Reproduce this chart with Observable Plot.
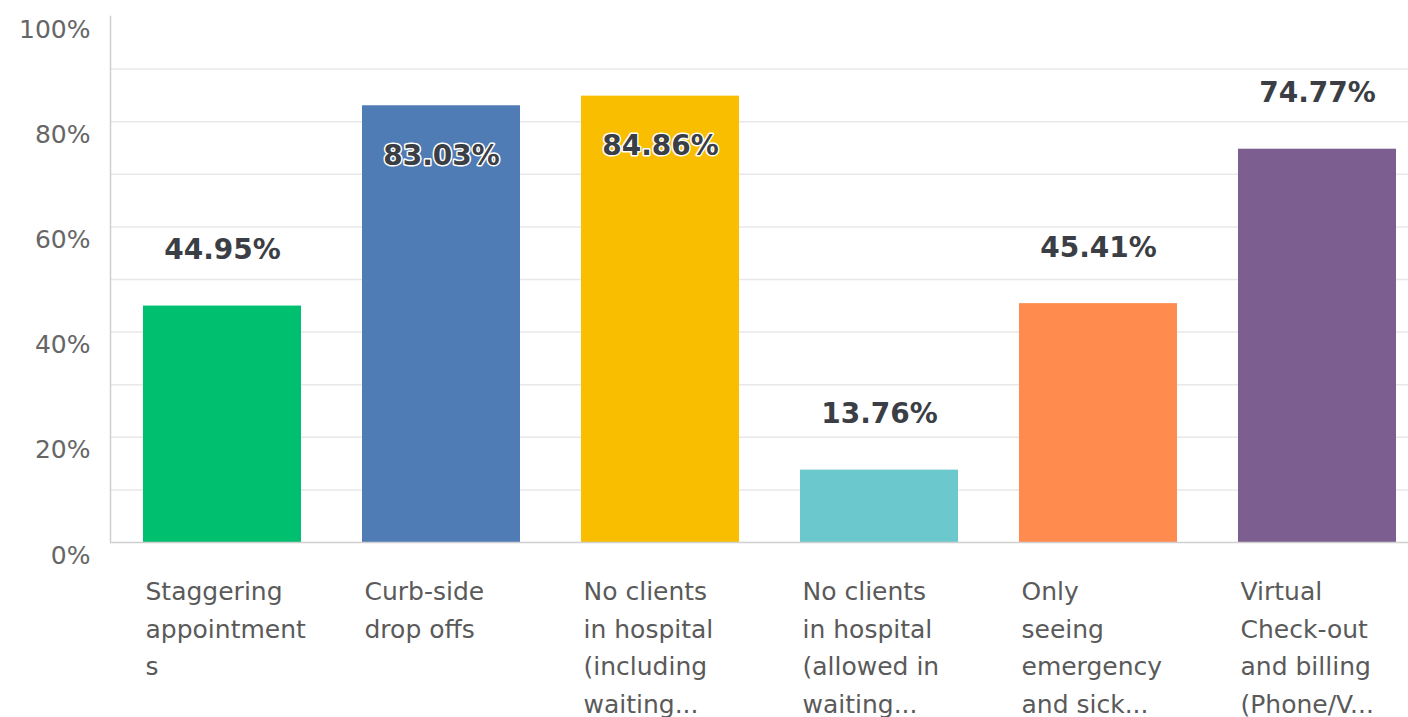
<!DOCTYPE html>
<html>
<head>
<meta charset="utf-8">
<script src="https://cdn.jsdelivr.net/npm/d3@7"></script>
<script src="https://cdn.jsdelivr.net/npm/@observablehq/plot@0.6"></script>
<style>
  html, body { margin: 0; padding: 0; background: #fff; }
  #chart svg { display: block; }
</style>
</head>
<body>
<div id="chart"></div>
<script>
const categories = [
  "Staggering appointments",
  "Curb-side drop offs",
  "No clients in hospital (including waiting room)",
  "No clients in hospital (allowed in waiting room)",
  "Only seeing emergency and sick patients",
  "Virtual Check-out and billing (Phone/Video)"
];
const tickLabels = [
  "Staggering\nappointment\ns",
  "Curb-side\ndrop offs",
  "No clients\nin hospital\n(including\nwaiting...",
  "No clients\nin hospital\n(allowed in\nwaiting...",
  "Only\nseeing\nemergency\nand sick...",
  "Virtual\nCheck-out\nand billing\n(Phone/V..."
];
const values = [44.95, 83.03, 84.86, 13.76, 45.41, 74.77];
const barColors = ["#00BF6F", "#507CB6", "#F9BE00", "#6BC8CD", "#FF8B4F", "#7D5E90"];
const yTicks = [0, 20, 40, 60, 80, 100];
const gridTicks = [10, 20, 30, 40, 50, 60, 70, 80, 90];

const data = categories.map((c, i) => ({category: c, value: values[i], label: values[i].toFixed(2) + "%"}));
const labelOf = new Map(categories.map((c, i) => [c, tickLabels[i]]));

const chart = Plot.plot({
  width: 1408,
  height: 717,
  marginLeft: 110,
  marginRight: 0,
  marginTop: 16,
  marginBottom: 175,
  style: {fontFamily: "'DejaVu Sans', sans-serif", background: "#fff"},
  x: {domain: categories, paddingInner: 0.28, paddingOuter: 0.1, align: 0.72, axis: null},
  y: {domain: [0, 100], axis: null},
  color: {domain: categories, range: barColors},
  marks: [
    Plot.gridY(gridTicks, {stroke: "#e8e8e8", strokeOpacity: 1, strokeWidth: 1.5}),
    Plot.axisY(yTicks, {
      label: null, tickSize: 0, tickPadding: 20, dy: 13,
      tickFormat: d => d + "%", fontSize: 25, fill: "#666"
    }),
    Plot.barY(data, {x: "category", y: "value", fill: "category"}),
    Plot.frame({anchor: "left", stroke: "#cfcfcf", strokeWidth: 1.5}),
    Plot.ruleY([0], {stroke: "#cfcfcf", strokeWidth: 1.5}),
    Plot.axisX({
      label: null, tickSize: 0, tickPadding: 31, textAnchor: "start", dx: -77,
      lineHeight: 1.5, fontSize: 25, fill: "#5a5a5a",
      tickFormat: d => labelOf.get(d)
    }),
    Plot.text(data.filter(d => d.value < 80), {
      x: "category", y: "value", text: "label", dy: -56,
      fontSize: 28, fontWeight: "bold", fill: "#3b3f45", stroke: "white", strokeWidth: 3
    }),
    Plot.text(data.filter(d => d.value >= 80), {
      x: "category", y: "value", text: "label", dy: 50,
      fontSize: 28, fontWeight: "bold", fill: "#3b3f45", stroke: "white", strokeWidth: 3
    })
  ]
});
document.getElementById("chart").appendChild(chart);
</script>
</body>
</html>
